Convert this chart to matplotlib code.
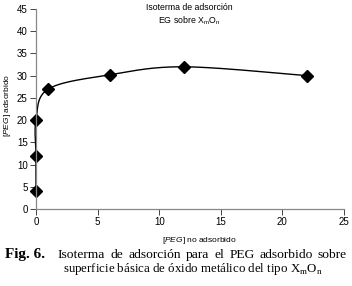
import numpy as np
import matplotlib
matplotlib.use("Agg")
import matplotlib.pyplot as plt

x_vals = [0, 0, 0, 1, 6, 12, 22]
y_vals = [4, 12, 20, 27, 30.2, 32, 30]
x_ticks = [0, 5, 10, 15, 20, 25]
y_ticks = [0, 5, 10, 15, 20, 25, 30, 35, 40, 45]

def catmull_rom(xs, ys, n=30):
    px = np.array(xs, float); py = np.array(ys, float)
    px = np.concatenate([[px[0]], px, [px[-1]]])
    py = np.concatenate([[py[0]], py, [py[-1]]])
    ox, oy = [], []
    t = np.linspace(0, 1, n)
    for i in range(1, len(px) - 2):
        p0, p1, p2, p3 = [np.array([px[j], py[j]]) for j in (i-1, i, i+1, i+2)]
        m1 = (p2 - p0) / 6.0
        m2 = (p3 - p1) / 6.0
        c1 = p1 + m1; c2 = p2 - m2
        for tt in t:
            b = ((1-tt)**3)*p1 + 3*((1-tt)**2)*tt*c1 + 3*(1-tt)*tt**2*c2 + tt**3*p2
            ox.append(b[0]); oy.append(b[1])
    return ox, oy

plt.rcParams['font.family'] = ['Liberation Sans', 'DejaVu Sans']
plt.rcParams['mathtext.fontset'] = 'custom'
plt.rcParams['mathtext.rm'] = 'Liberation Sans'
plt.rcParams['mathtext.it'] = 'Liberation Sans:italic'

W, H = 352, 286
fig = plt.figure(figsize=(W/100, H/100), dpi=100)
ax = fig.add_axes([36/W, 1-209/H, 308/W, 200/H])

sx, sy = catmull_rom(x_vals, y_vals)
ax.plot(sx, sy, color='black', lw=1.0, clip_on=False)
ax.plot(x_vals, y_vals, linestyle='none', marker='D', color='black', markersize=5.8, clip_on=False)

ax.set_xlim(0, 25)
ax.set_ylim(0, 45)
ax.set_xticks(x_ticks)
ax.set_yticks(y_ticks)
for s in ['top', 'right']:
    ax.spines[s].set_visible(False)
for s in ['left', 'bottom']:
    ax.spines[s].set_color('#888888')
    ax.spines[s].set_linewidth(0.9)
ax.tick_params(axis='both', labelsize=7, length=4, width=0.7, color='#444444', pad=2)

fig.text(199/W, 1-240/H, r'[$\mathit{PEG}$] no adsorbido', fontsize=6, ha='center', va='center')
fig.text(8/W, 1-105/H, r'[$\mathit{PEG}$] adsorbido', fontsize=6, ha='center', va='center', rotation=90)

fig.text(189/W, 1-8/H, 'Isoterma de adsorción', fontsize=6.3, ha='center', va='center')
fig.text(189/W, 1-21/H, r'EG sobre X$_{\mathregular{m}}$O$_{\mathregular{n}}$', fontsize=6.3, ha='center', va='center')

base1 = 1 - 258/H
base2 = 1 - 272/H
fig.text(5/W, base1, 'Fig. 6.', fontsize=11, fontweight='bold', family='Liberation Serif', va='baseline')

# justified first caption line
words = 'Isoterma de adsorción para el PEG adsorbido sobre'.split()
fig.canvas.draw()
r = fig.canvas.get_renderer()
arts = [fig.text(0, base1, w_, fontsize=9.7, family='Liberation Serif', va='baseline') for w_ in words]
widths = [a.get_window_extent(renderer=r).width for a in arts]
x0, x1 = 58, 347
gap = (x1 - x0 - sum(widths)) / (len(words) - 1)
cx = x0
for a, wd in zip(arts, widths):
    a.set_x(cx / W)
    cx += wd + gap

fig.text(63/W, base2, r'superficie básica de óxido metálico del tipo X$_{\mathregular{m}}$O$_{\mathregular{n}}$',
         fontsize=9.3, family='Liberation Serif', va='baseline')

fig.savefig('out.png', dpi=100)
